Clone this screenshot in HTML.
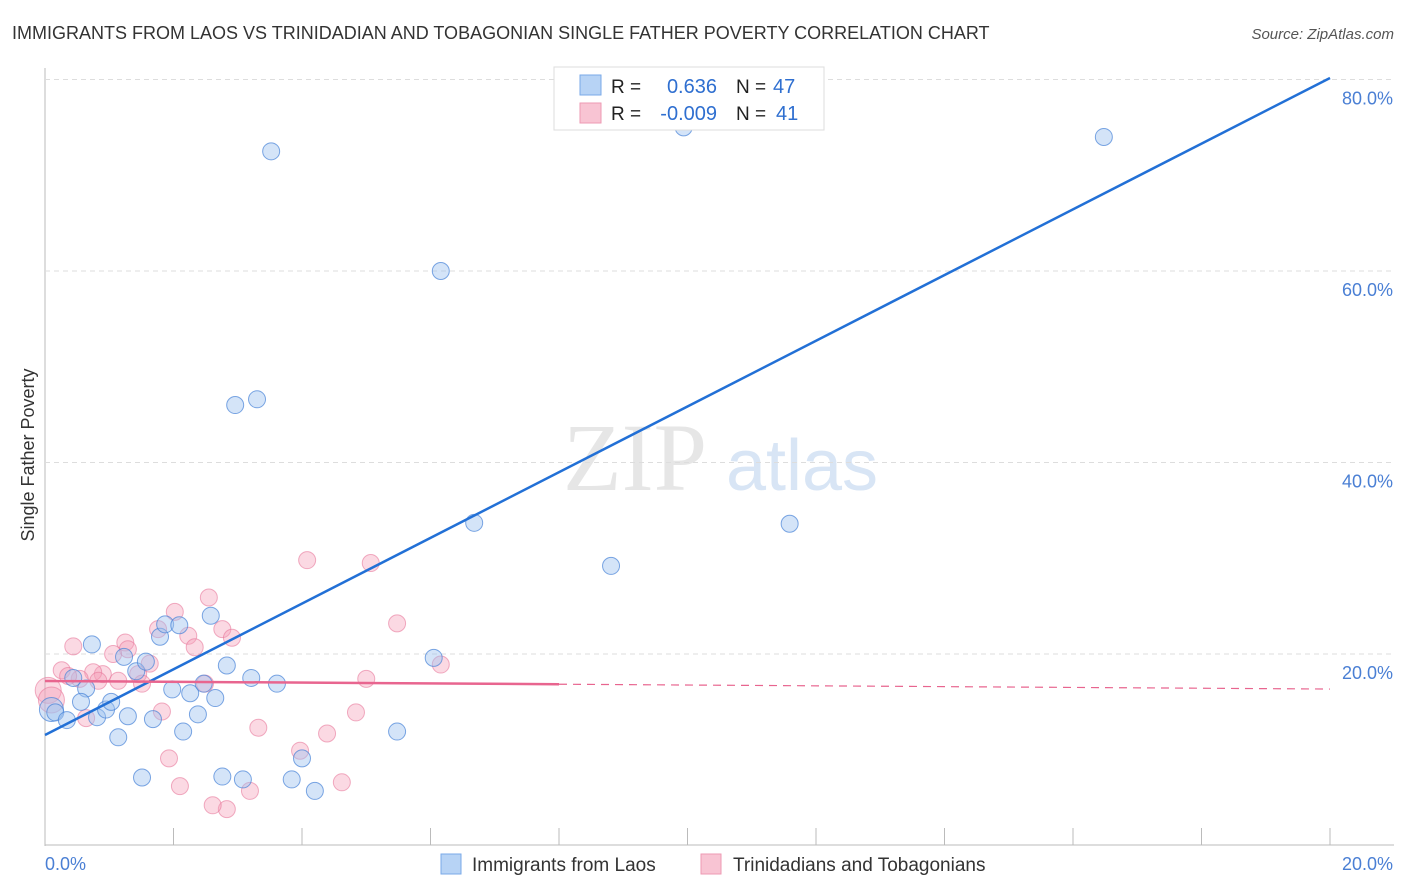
<!DOCTYPE html>
<html><head><meta charset="utf-8"><style>
body{margin:0;background:#fff;font-family:"Liberation Sans",sans-serif;}
svg{display:block}
</style></head><body>
<svg id="c" width="1406" height="892" xmlns="http://www.w3.org/2000/svg">
<text x="12" y="39" font-size="18" fill="#333">IMMIGRANTS FROM LAOS VS TRINIDADIAN AND TOBAGONIAN SINGLE FATHER POVERTY CORRELATION CHART</text>
<text x="1394" y="39" font-size="15" fill="#555" font-style="italic" text-anchor="end">Source: ZipAtlas.com</text>
<text x="34" y="455" font-size="18" fill="#333" text-anchor="middle" transform="rotate(-90 34 455)">Single Father Poverty</text>
<g><text x="635" y="490" font-size="96" font-family="Liberation Serif,serif" fill="#e6e6e6" text-anchor="middle">ZIP</text><text x="802" y="490" font-size="72" fill="#d8e5f5" text-anchor="middle">atlas</text></g>
<g id="grid"></g><g id="marks"></g>
<g>
<rect x="554" y="67" width="270" height="63" fill="#fff" stroke="#ddd"/>
<rect x="580" y="75" width="21" height="20" fill="#b7d3f5" stroke="#7aa9e8"/>
<rect x="580" y="103" width="21" height="20" fill="#f8c4d3" stroke="#ee9ab3"/>
<text x="611" y="93" font-size="19" fill="#222">R =</text><text x="717" y="93" font-size="20" fill="#2f6fd0" text-anchor="end">0.636</text>
<text x="736" y="93" font-size="19" fill="#222">N =</text><text x="773" y="93" font-size="20" fill="#2f6fd0">47</text>
<text x="611" y="120" font-size="19" fill="#222">R =</text><text x="717" y="120" font-size="20" fill="#2f6fd0" text-anchor="end">-0.009</text>
<text x="736" y="120" font-size="19" fill="#222">N =</text><text x="776" y="120" font-size="20" fill="#2f6fd0">41</text>
</g>
<g>
<rect x="441" y="854" width="20" height="20" fill="#b7d3f5" stroke="#7aa9e8"/>
<text x="472" y="871" font-size="19" fill="#333">Immigrants from Laos</text>
<rect x="701" y="854" width="20" height="20" fill="#f8c4d3" stroke="#ee9ab3"/>
<text x="733" y="871" font-size="19" fill="#333">Trinidadians and Tobagonians</text>
</g>
</svg>
<script>
const xTicks=[0,2,4,6,8,10,12,14,16,18,20];
const yTicks=[20,40,60,80];
const yTickLabels=["20.0%","40.0%","60.0%","80.0%"];
const blueX=[3.52,9.94,16.48,6.16,2.96,3.30,6.68,8.81,11.59,0.1,0.16,0.34,0.44,0.64,0.56,0.73,0.81,0.95,1.03,1.14,1.23,1.29,1.42,1.57,1.51,1.68,1.79,1.87,2.09,1.98,2.15,2.26,2.38,2.47,2.58,2.65,2.83,2.76,3.08,3.21,3.61,3.84,4.0,4.20,5.48,6.05];
const blueY=[72.5,75.0,74.0,60.0,46.0,46.6,33.7,29.2,33.6,14.2,13.9,13.1,17.5,16.4,15.0,21.0,13.4,14.2,15.0,11.3,19.7,13.5,18.2,19.2,7.1,13.2,21.8,23.1,23.0,16.3,11.9,15.9,13.7,16.9,24.0,15.4,18.8,7.2,6.9,17.5,16.9,6.9,9.1,5.7,11.9,19.6];
const pinkX=[4.08,5.07,5.48,6.16,5.0,4.84,4.39,3.97,4.62,3.32,3.19,2.83,2.61,2.10,1.93,1.82,2.55,2.02,1.76,2.23,2.33,2.76,2.91,2.49,1.25,1.29,1.06,1.63,1.45,1.51,1.14,0.90,0.75,0.83,0.54,0.44,0.26,0.36,0.64,0.05,0.1];
const pinkY=[29.8,29.5,23.2,18.9,17.4,13.9,11.7,9.9,6.6,12.3,5.7,3.8,4.2,6.2,9.1,14.0,25.9,24.4,22.6,21.9,20.7,22.6,21.7,16.9,21.2,20.5,20.0,19.0,17.9,16.9,17.2,17.9,18.1,17.2,17.4,20.8,18.3,17.7,13.3,16.2,15.2];
const blueLine=[11.54,80.16];
const pinkLine=[17.18,16.34];
const X=v=>45+v*64.25, Y=v=>845.5-v*9.575;
const NS="http://www.w3.org/2000/svg";
function mk(t,a,p){const e=document.createElementNS(NS,t);for(const k in a)e.setAttribute(k,a[k]);p.appendChild(e);return e;}
const g=document.getElementById('grid'), m=document.getElementById('marks');
let ax=mk('line',{x1:45,y1:68,x2:45,y2:846,stroke:'#bbb'},g);


let bx=mk('line',{x1:45,y1:845,x2:1394,y2:845,stroke:'#bbb'},g);


xTicks.forEach(v=>{const t=mk('line',{x1:X(v),y1:828,x2:X(v),y2:845,stroke:'#bbb'},g);

});
yTicks.forEach((v,i)=>{const l=mk('line',{x1:45,y1:Y(v),x2:1394,y2:Y(v),stroke:'#ddd','stroke-dasharray':'5,4'},g);


const t=mk('text',{x:1393,y:Y(v)+25,'font-size':18,fill:'#4a7fd4','text-anchor':'end'},g);t.textContent=yTickLabels[i];

});
const x0=mk('text',{x:45,y:870,'font-size':18,fill:'#4a7fd4'},g);x0.textContent='0.0%';


const x1=mk('text',{x:1393,y:870,'font-size':18,fill:'#4a7fd4','text-anchor':'end'},g);x1.textContent='20.0%';


pinkX.forEach((v,i)=>{const big=i>=39;const c=mk('circle',{cx:X(v),cy:Y(pinkY[i]),r:big?13:8.5,fill:'rgba(244,160,185,0.4)',stroke:'rgba(232,120,155,0.6)','stroke-width':1},m);

});
blueX.forEach((v,i)=>{const big=i===9;const c=mk('circle',{cx:X(v),cy:Y(blueY[i]),r:big?12:8.5,fill:'rgba(160,195,240,0.45)',stroke:'rgba(70,130,215,0.7)','stroke-width':1},m);

});
const bl=mk('line',{x1:X(0),y1:Y(blueLine[0]),x2:X(20),y2:Y(blueLine[1]),stroke:'#2270d6','stroke-width':2.5},m);


const pm=(v)=>pinkLine[0]+(pinkLine[1]-pinkLine[0])*v/20;
const ps=mk('line',{x1:X(0),y1:Y(pm(0)),x2:X(8),y2:Y(pm(8)),stroke:'#e8658f','stroke-width':2.5},m);


const pd=mk('line',{x1:X(8),y1:Y(pm(8)),x2:X(20),y2:Y(pm(20)),stroke:'#e8658f','stroke-width':1.2,'stroke-dasharray':'8,6'},m);


</script>
</body></html>
